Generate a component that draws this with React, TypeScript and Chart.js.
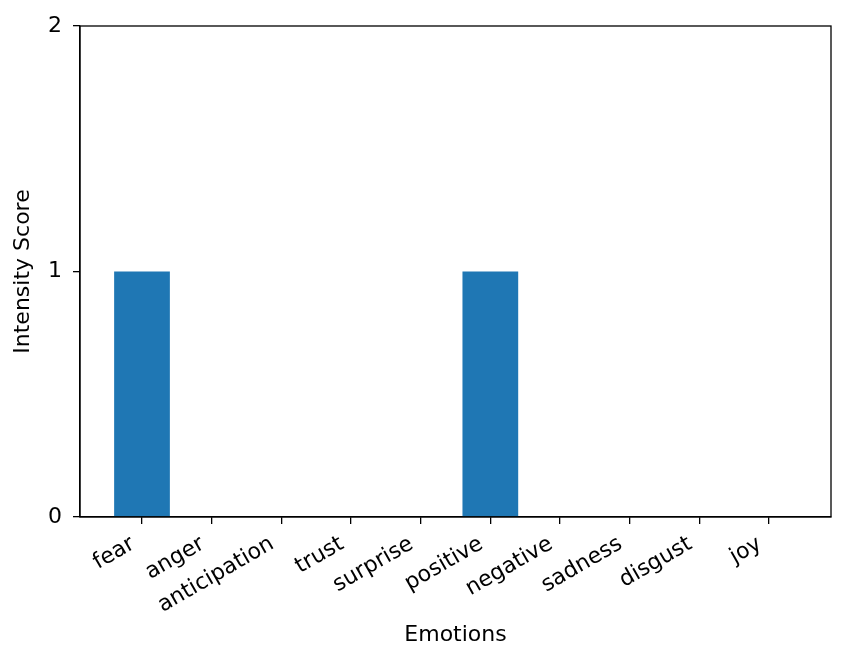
import React, { useEffect, useRef } from "react";
import { Chart, registerables } from "chart.js";

Chart.register(...registerables);

const categories = ["fear", "anger", "anticipation", "trust", "surprise", "positive", "negative", "sadness", "disgust", "joy"];
const scores = [1, 0, 0, 0, 0, 1, 0, 0, 0, 0];
const yTicks = [0, 1, 2];

const FONT = "'DejaVu Sans', sans-serif";
const FS = 22;

const boxPlugin = {
  id: "boxPlugin",
  afterDraw(chart: any) {
    const { ctx, chartArea } = chart;
    ctx.save();
    ctx.strokeStyle = "#000";
    ctx.lineWidth = 1.3;
    ctx.strokeRect(chartArea.left, chartArea.top, chartArea.right - chartArea.left, chartArea.bottom - chartArea.top);
    ctx.restore();
  },
};

export default function App() {
  const ref = useRef<HTMLCanvasElement>(null);
  useEffect(() => {
    document.body.style.margin = "0";
    const data = categories.map((_, i) => ({ x: i, y: scores[i] }));
    const chart = new Chart(ref.current!, {
      type: "bar",
      data: {
        datasets: [
          {
            data,
            backgroundColor: "#1f77b4",
            borderWidth: 0,
            barPercentage: 0.8,
            categoryPercentage: 1,
          },
        ],
      },
      plugins: [boxPlugin],
      options: {
        animation: false,
        responsive: false,
        maintainAspectRatio: false,
        layout: { padding: { top: 26, right: 15, left: 0, bottom: 0 } },
        plugins: { legend: { display: false }, tooltip: { enabled: false } },
        scales: {
          x: {
            type: "linear",
            offset: false,
            min: -0.89,
            max: 9.89,
            afterBuildTicks: (scale: any) => {
              scale.ticks = categories.map((_, i) => ({ value: i }));
            },
            afterFit: (scale: any) => {
              scale.height = 147;
            },
            ticks: {
              autoSkip: false,
              minRotation: 30,
              maxRotation: 30,
              padding: 7,
              labelOffset: -9,
              color: "#000",
              font: { family: FONT, size: FS },
              callback: (v: any) => categories[Math.round(v)] ?? "",
            },
            grid: { offset: false, drawOnChartArea: false, drawTicks: true, tickLength: 7, color: "#000", lineWidth: 1.3 },
            border: { display: true, color: "#000", width: 1.3 },
            title: {
              display: true,
              text: "Emotions",
              color: "#000",
              font: { family: FONT, size: FS },
              padding: { top: 0, bottom: 16 },
            },
          },
          y: {
            min: 0,
            max: 2,
            afterBuildTicks: (scale: any) => {
              scale.ticks = yTicks.map((v) => ({ value: v }));
            },
            afterFit: (scale: any) => {
              scale.width = 80;
            },
            ticks: {
              padding: 11,
              color: "#000",
              font: { family: FONT, size: FS },
            },
            grid: { drawOnChartArea: false, drawTicks: true, tickLength: 7, color: "#000", lineWidth: 1.3 },
            border: { display: true, color: "#000", width: 1.3 },
            title: {
              display: true,
              text: "Intensity Score",
              color: "#000",
              font: { family: FONT, size: FS },
              padding: { top: 10, bottom: 0 },
            },
          },
        },
      },
    } as any);
    return () => chart.destroy();
  }, []);
  return (
    <div style={{ width: 846, height: 664, background: "#fff" }}>
      <canvas ref={ref} width={846} height={664} style={{ display: "block" }} />
    </div>
  );
}
